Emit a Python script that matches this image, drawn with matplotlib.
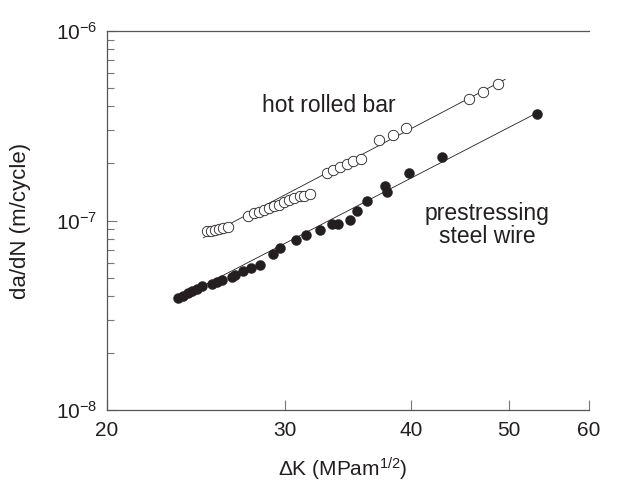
import matplotlib

matplotlib.use("Agg")
import matplotlib.pyplot as plt
from matplotlib.ticker import FixedLocator, NullLocator, LogLocator, NullFormatter

plt.rcParams["font.family"] = ["Liberation Sans", "DejaVu Sans"]
plt.rcParams["mathtext.fontset"] = "custom"
plt.rcParams["mathtext.rm"] = "Liberation Sans"
plt.rcParams["mathtext.it"] = "Liberation Sans:italic"

INK = "#231f20"
AXIS = "#555555"

# hot rolled bar (open circles)
bar_dk = [25.10, 25.33, 25.58, 25.82, 26.07, 26.37,
          27.60, 27.98, 28.28, 28.63, 28.93, 29.29, 29.60, 29.96, 30.28,
          30.65, 31.03, 31.36, 31.79,
          33.00, 33.50, 34.02, 34.54, 35.04, 35.65,
          37.21, 38.37, 39.54,
          45.68, 47.08, 48.72]
bar_rate = [8.75e-8, 8.83e-8, 8.93e-8, 9.00e-8, 9.08e-8, 9.19e-8,
            1.054e-7, 1.098e-7, 1.115e-7, 1.143e-7, 1.161e-7, 1.189e-7, 1.214e-7, 1.248e-7, 1.290e-7,
            1.317e-7, 1.342e-7, 1.354e-7, 1.387e-7,
            1.783e-7, 1.855e-7, 1.924e-7, 1.983e-7, 2.057e-7, 2.107e-7,
            2.653e-7, 2.836e-7, 3.068e-7,
            4.370e-7, 4.776e-7, 5.261e-7]

# prestressing steel wire (filled circles)
wire_dk = [23.53, 23.78, 24.03, 24.29, 24.55, 24.82,
           25.42, 25.70, 25.98, 26.58, 26.78, 27.29, 27.74, 28.35,
           29.19, 29.67, 30.76, 31.50, 32.52, 33.38, 33.84, 34.83, 35.34,
           36.18, 37.69, 37.89, 39.83, 42.92, 53.27]
wire_rate = [3.910e-8, 4.016e-8, 4.119e-8, 4.240e-8, 4.371e-8, 4.511e-8,
             4.627e-8, 4.758e-8, 4.875e-8, 5.055e-8, 5.166e-8, 5.390e-8, 5.603e-8, 5.817e-8,
             6.624e-8, 7.183e-8, 7.868e-8, 8.409e-8, 8.913e-8, 9.608e-8, 9.573e-8, 1.0085e-7, 1.129e-7,
             1.270e-7, 1.515e-7, 1.416e-7, 1.772e-7, 2.154e-7, 3.644e-7]

# fitted lines (end points)
bar_fit_dk = [24.91, 49.56]
bar_fit_rate = [8.11e-8, 5.56e-7]
wire_fit_dk = [23.35, 53.67]
wire_fit_rate = [3.79e-8, 3.77e-7]

x_ticks = [20, 30, 40, 50, 60]

fig = plt.figure(figsize=(6.41, 4.87), dpi=100)
ax = fig.add_axes([107 / 641, 77 / 487, 482 / 641, 379 / 487])

ax.plot(bar_fit_dk, bar_fit_rate, color=INK, lw=0.6)
ax.plot(wire_fit_dk, wire_fit_rate, color=INK, lw=0.6)
ax.plot(bar_dk, bar_rate, "o", ms=7.5, mfc="white", mec=INK, mew=0.6, ls="none")
ax.plot(wire_dk, wire_rate, "o", ms=7.2, mfc=INK, mec=INK, mew=0.3, ls="none")

ax.set_xscale("log")
ax.set_yscale("log")
ax.set_xlim(20, 60)
ax.set_ylim(1e-8, 1e-6)

ax.xaxis.set_major_locator(FixedLocator(x_ticks))
ax.xaxis.set_minor_locator(NullLocator())
ax.set_xticklabels([str(t) for t in x_ticks])
ax.yaxis.set_major_locator(FixedLocator([1e-8, 1e-7, 1e-6]))
ax.yaxis.set_minor_locator(LogLocator(base=10, subs=range(2, 10)))
ax.yaxis.set_minor_formatter(NullFormatter())
ax.set_yticklabels(["$10^{-8}$", "$10^{-7}$", "$10^{-6}$"])

for s in ["left", "bottom", "top"]:
    ax.spines[s].set_color(AXIS)
    ax.spines[s].set_linewidth(0.9)
ax.spines["right"].set_visible(False)

ax.tick_params(axis="both", which="major", direction="in", length=7, width=0.8,
               color="#777777", labelsize=15, labelcolor=INK)
ax.tick_params(axis="x", pad=8)
ax.tick_params(axis="y", pad=7)
ax.tick_params(axis="y", which="minor", direction="in", length=5, width=0.8, color="#777777")

ax.set_xlabel(r"$\Delta$K (MPam$^{1/2}$)", fontsize=15, color=INK)
ax.set_ylabel("da/dN (m/cycle)", fontsize=16, color=INK, va="center")
ax.xaxis.set_label_coords(0.49, -0.12)
ax.yaxis.set_label_coords(-0.18, 0.5)

ax.text(0.4606, 0.8047, "hot rolled bar", transform=ax.transAxes, fontsize=16.5,
        color=INK, ha="center", va="center")
ax.text(0.788, 0.488, "prestressing\nsteel wire", transform=ax.transAxes, fontsize=16.5,
        color=INK, ha="center", va="center", linespacing=1.0)

fig.savefig("out.png", dpi=100)
